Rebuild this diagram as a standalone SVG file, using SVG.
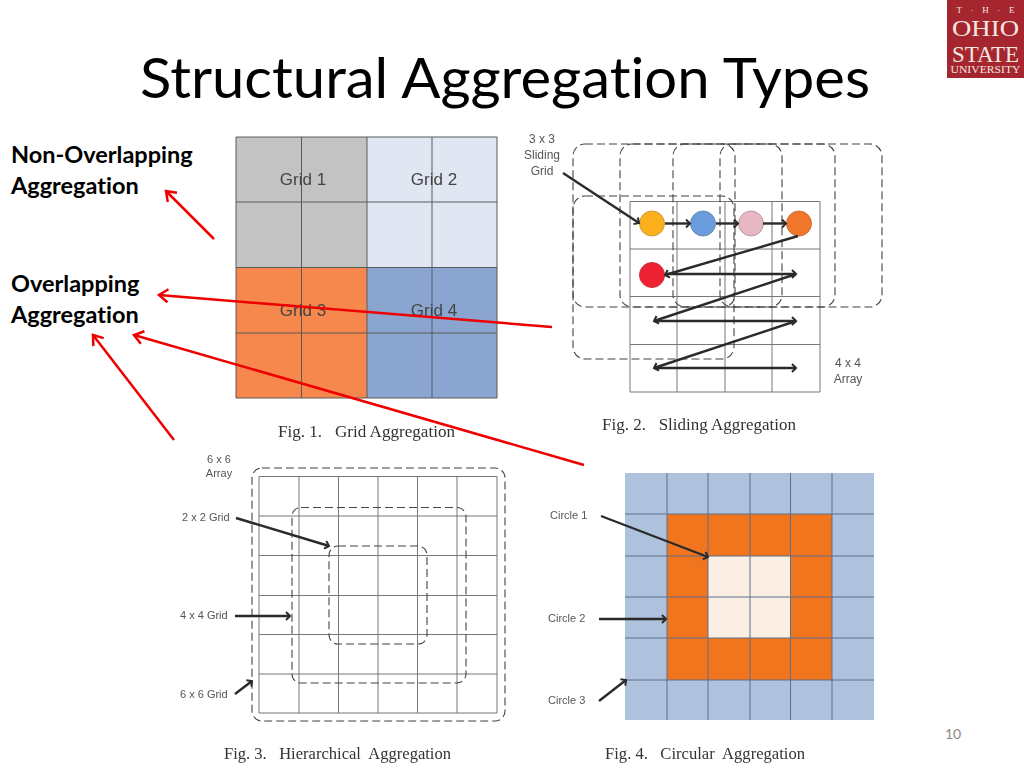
<svg xmlns="http://www.w3.org/2000/svg" width="1024" height="768" viewBox="0 0 1024 768">
<style>
text{font-variant-ligatures:none}
.lato{font-family:"Lato","Liberation Sans",sans-serif}
.bold{font-family:"Lato","Liberation Sans",sans-serif;font-weight:700;font-size:23.500px;fill:#000}
.lab{font-family:"Liberation Sans",Arial,sans-serif;fill:#555}
.cap{font-family:"Liberation Serif","Times New Roman",serif;font-size:16.500px;fill:#333}
.dash{fill:none;stroke:#444;stroke-width:1.100;stroke-dasharray:8 4}
.red{fill:none;stroke:#ee0000;stroke-width:2.500;marker-end:url(#ra)}
.blk{fill:none;stroke:#2b2b2b;stroke-width:2.400;marker-end:url(#ba)}
.logo{font-family:"Liberation Serif",serif;fill:#f3e6e0;text-anchor:middle}
</style>
<defs>
<marker id="ra" markerUnits="userSpaceOnUse" markerWidth="16" markerHeight="16" refX="13" refY="8" orient="auto"><path d="M4 1.500L13 8L4 14.500" fill="none" stroke="#ee0000" stroke-width="2.500"/></marker>
<marker id="ba" markerUnits="userSpaceOnUse" markerWidth="10" markerHeight="10" refX="8" refY="5" orient="auto"><path d="M4 1L8 5L4 9" fill="none" stroke="#2b2b2b" stroke-width="2"/></marker>
<filter id="soft" x="-5%" y="-5%" width="110%" height="110%"><feGaussianBlur stdDeviation="0.500"/></filter>
</defs>
<rect width="1024" height="768" fill="#fff"/>
<g id="logo">
<rect x="947" y="0" width="77" height="78" fill="#a5262e"/>
<text class="logo" x="985.500" y="13" font-size="9" textLength="58" lengthAdjust="spacing">T · H · E</text>
<text class="logo" x="985.500" y="36" font-size="24" textLength="67" lengthAdjust="spacingAndGlyphs">OHIO</text>
<text class="logo" x="985.500" y="62" font-size="24" textLength="67" lengthAdjust="spacingAndGlyphs">STATE</text>
<text class="logo" x="985.500" y="73" font-size="9.500" textLength="70" lengthAdjust="spacingAndGlyphs">UNIVERSITY</text>
</g>
<text id="title" class="lato" x="140" y="98" font-size="56" fill="#000" textLength="730" lengthAdjust="spacingAndGlyphs">Structural Aggregation Types</text>
<g id="label-non-overlapping">
<text class="bold" x="11" y="163">Non-Overlapping</text>
<text class="bold" x="11" y="194">Aggregation</text>
</g>
<g id="label-overlapping">
<text class="bold" x="11" y="292">Overlapping</text>
<text class="bold" x="11" y="323">Aggregation</text>
</g>
<g id="fig1" filter="url(#soft)">
<rect x="236" y="137" width="131" height="130" fill="#c3c3c3"/>
<rect x="367" y="137" width="130" height="130" fill="#e1e6f3"/>
<rect x="236" y="267" width="131" height="131" fill="#f6874d"/>
<rect x="367" y="267" width="130" height="131" fill="#8aa6d0"/>
<path d="M236 137H497V398H236ZM301.500 137V398M367 137V398M432 137V398M236 202H497M236 267.500H497M236 333H497" fill="none" stroke="#5a5a5a" stroke-width="1"/>
<g font-family="Liberation Sans,Arial,sans-serif" font-size="17" fill="#444" text-anchor="middle">
<text x="303" y="185">Grid 1</text><text x="434" y="185">Grid 2</text>
<text x="303" y="316">Grid 3</text><text x="434" y="316">Grid 4</text>
</g>
<text class="cap" x="278" y="437" textLength="177" lengthAdjust="spacingAndGlyphs" xml:space="preserve">Fig. 1.   Grid Aggregation</text>
</g>
<g id="fig2" filter="url(#soft)">
<path d="M630 201.500H820V392H630ZM677 201V392M725 201V392M772 201V392M630 249H820M630 296.500H820M630 344.500H820" fill="none" stroke="#777" stroke-width="1"/>
<rect class="dash" x="573" y="144" width="162" height="163" rx="12"/>
<rect class="dash" x="620" y="144" width="162" height="163" rx="12"/>
<rect class="dash" x="673" y="144" width="162" height="163" rx="12"/>
<rect class="dash" x="720" y="144" width="162" height="163" rx="12"/>
<rect class="dash" x="573" y="196" width="161" height="163" rx="12"/>
<circle cx="652" cy="223.500" r="12.500" fill="#fbb01e" stroke="#c99a3a"/>
<circle cx="703" cy="223.500" r="12.500" fill="#6a9bdc" stroke="#6a8ab0"/>
<circle cx="751" cy="223.500" r="12.500" fill="#e7b7c4" stroke="#b89aa4"/>
<circle cx="799" cy="223.500" r="12.500" fill="#f1752a" stroke="#c8703a"/>
<circle cx="652" cy="275" r="12.500" fill="#ee2030" stroke="#c8303a"/>
<g class="lab" font-size="12" text-anchor="middle">
<text x="542" y="143">3 x 3</text><text x="542" y="159">Sliding</text><text x="542" y="175">Grid</text>
<text x="848" y="367">4 x 4</text><text x="848" y="383">Array</text>
</g>
<text class="cap" x="602" y="430" textLength="194" lengthAdjust="spacingAndGlyphs" xml:space="preserve">Fig. 2.   Sliding Aggregation</text>
</g>
<g id="fig3" filter="url(#soft)">
<path d="M259 476.500H497V713H259ZM299 476V713M338.500 476V713M378 476V713M417.500 476V713M457 476V713M259 516H497M259 555.500H497M259 595.500H497M259 634.500H497M259 674H497" fill="none" stroke="#777" stroke-width="1"/>
<rect class="dash" x="252" y="468" width="253" height="253" rx="10"/>
<rect class="dash" x="292" y="507.500" width="174" height="175.500" rx="9"/>
<rect class="dash" x="329" y="546" width="98" height="98" rx="9"/>
<g class="lab" font-size="11">
<text x="219" y="463" text-anchor="middle">6 x 6</text><text x="219" y="477" text-anchor="middle">Array</text>
<text x="182" y="521">2 x 2 Grid</text><text x="180" y="619">4 x 4 Grid</text><text x="180" y="698">6 x 6 Grid</text>
</g>
<text class="cap" x="224" y="759" textLength="227" lengthAdjust="spacingAndGlyphs" xml:space="preserve">Fig. 3.   Hierarchical  Aggregation</text>
</g>
<g id="fig4" filter="url(#soft)">
<rect x="625" y="473" width="249" height="247" fill="#aec1dd"/>
<rect x="667" y="514" width="165" height="166" fill="#f1741f"/>
<rect x="708" y="556" width="82" height="82" fill="#fbeee3"/>
<path d="M667 473V720M708 473V720M750 473V720M790.500 473V720M832 473V720M625 514H874M625 556H874M625 597H874M625 638H874M625 680H874" fill="none" stroke="#5f6f8a" stroke-width="1"/>
<g class="lab" font-size="11">
<text x="550" y="519">Circle 1</text><text x="548" y="622">Circle 2</text><text x="548" y="704">Circle 3</text>
</g>
<text class="cap" x="605" y="759" textLength="200" lengthAdjust="spacingAndGlyphs" xml:space="preserve">Fig. 4.   Circular  Aggregation</text>
</g>
<g id="connectors">
<g id="black-arrows" filter="url(#soft)">
<path class="blk" d="M563 173L639 223"/>
<path class="blk" d="M665 223.500H690"/>
<path class="blk" d="M716 223.500H738"/>
<path class="blk" d="M763 223.500H786"/>
<path class="blk" d="M798 236L665 275"/>
<path class="blk" d="M665 274H796"/>
<path class="blk" d="M796 274L654 321"/>
<path class="blk" d="M654 321H796"/>
<path class="blk" d="M796 321L654 368"/>
<path class="blk" d="M654 368H796"/>
<path class="blk" d="M236 518L329 546"/>
<path class="blk" d="M235 616H290"/>
<path class="blk" d="M235 694L252 681"/>
<path class="blk" d="M601 516L708 557"/>
<path class="blk" d="M599 619H666"/>
<path class="blk" d="M599 701L626 680"/>
</g>
<g id="red-arrows">
<path class="red" d="M214 239L166 191"/>
<path class="red" d="M552 327L159 295"/>
<path class="red" d="M584 465L134 335"/>
<path class="red" d="M174 440L93 335"/>
</g>
</g>
<text id="page-number" class="lato" x="945" y="739" font-size="14" fill="#8a8a8a">10</text>
</svg>
